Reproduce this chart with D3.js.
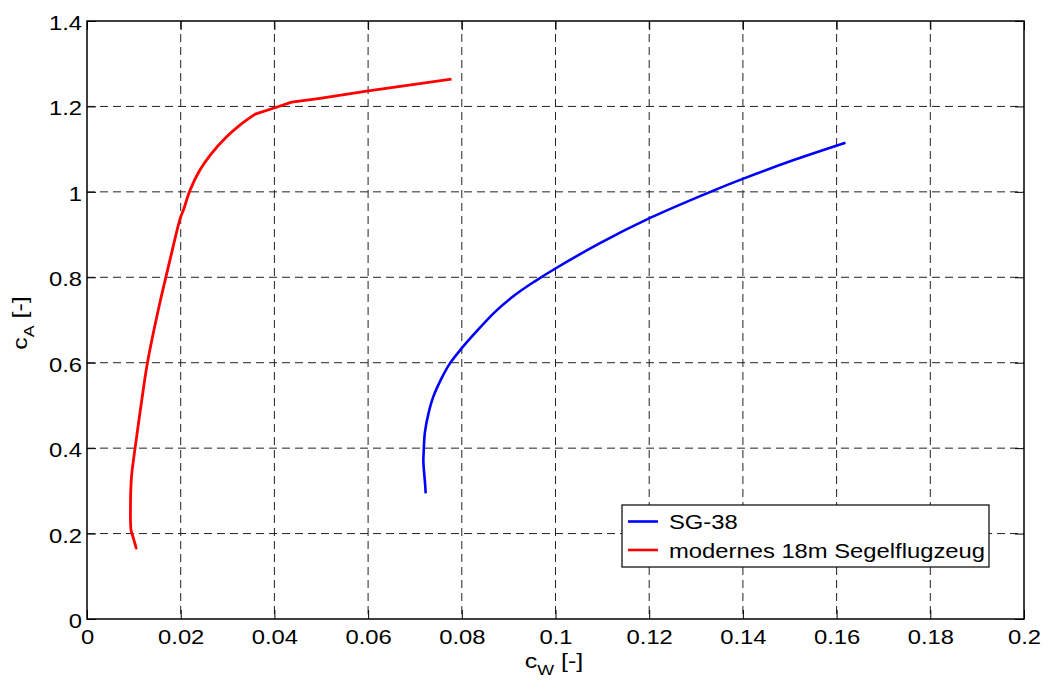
<!DOCTYPE html>
<html><head><meta charset="utf-8">
<script src="https://cdn.jsdelivr.net/npm/d3@7"></script>
<style>
html,body{margin:0;padding:0;background:#fff;}
svg{display:block;}
text{font-family:"Liberation Sans",Arial,sans-serif;fill:#000;}
</style></head>
<body>
<script>
// Data
const xTicks = [0, 0.02, 0.04, 0.06, 0.08, 0.1, 0.12, 0.14, 0.16, 0.18, 0.2];
const yTicks = [0, 0.2, 0.4, 0.6, 0.8, 1, 1.2, 1.4];
const seriesNames = ["SG-38", "modernes 18m Segelflugzeug"];
const sgCw = [0.0723,0.0721,0.0718,0.0719,0.0721,0.0729,0.0739,0.0757,0.0775,0.0800,0.0828,0.0871,0.0914,0.0955,0.0999,0.1095,0.1202,0.1337,0.1401,0.1510,0.1619];
const sgCa = [0.294,0.325,0.368,0.400,0.435,0.482,0.520,0.564,0.599,0.634,0.669,0.719,0.759,0.790,0.820,0.880,0.939,1.003,1.031,1.075,1.115];
const modCw = [0.0105,0.0098,0.0094,0.0093,0.0095,0.0103,0.0117,0.0129,0.0152,0.0177,0.0199,0.0206,0.0220,0.0241,0.0263,0.0298,0.0327,0.0359,0.0401,0.0437,0.0497,0.0597,0.0778];
const modCa = [0.166,0.193,0.208,0.279,0.333,0.403,0.513,0.600,0.723,0.840,0.938,0.958,1.004,1.051,1.086,1.129,1.157,1.182,1.197,1.210,1.219,1.236,1.264];
const modKink = 17; // index where the red polar changes to straight segments

const W = 1047, H = 684;
const L = 87, R = 1024, T = 21, B = 619;
const SX = 1.19; // horizontal text stretch
const fmt = d => String(+d.toFixed(4));

const svg = d3.select("body").append("svg").attr("width", W).attr("height", H);
const x = d3.scaleLinear().domain([0, 0.2]).range([L, R]);
const y = d3.scaleLinear().domain([0, 1.4]).range([B, T]);

function stretchText(sel, px, py, anchor) {
  sel.attr("text-anchor", anchor)
     .attr("transform", `translate(${px},${py}) scale(${SX},1)`)
     .attr("x", 0).attr("y", 0);
}

// Grid
const grid = svg.append("g");
grid.selectAll("line.gx").data(xTicks.slice(1, -1)).join("line")
  .attr("x1", d => x(d)).attr("x2", d => x(d)).attr("y1", T).attr("y2", B)
  .attr("stroke", "#222").attr("stroke-width", 1).attr("stroke-dasharray", "8,5");
grid.selectAll("line.gy").data(yTicks.slice(1, -1)).join("line")
  .attr("y1", d => y(d)).attr("y2", d => y(d)).attr("x1", L).attr("x2", R)
  .attr("stroke", "#222").attr("stroke-width", 1).attr("stroke-dasharray", "8,5");

// Axes (inward ticks) using d3 axes
const tickLen = 9;
const axB = svg.append("g").attr("transform", `translate(0,${B})`)
  .call(d3.axisBottom(x).tickValues(xTicks).tickSizeInner(-tickLen).tickSizeOuter(0).tickFormat(fmt));
const axT = svg.append("g").attr("transform", `translate(0,${T})`)
  .call(d3.axisTop(x).tickValues(xTicks).tickSizeInner(-tickLen).tickSizeOuter(0).tickFormat(""));
const axL = svg.append("g").attr("transform", `translate(${L},0)`)
  .call(d3.axisLeft(y).tickValues(yTicks).tickSizeInner(-tickLen).tickSizeOuter(0).tickFormat(fmt));
const axR = svg.append("g").attr("transform", `translate(${R},0)`)
  .call(d3.axisRight(y).tickValues(yTicks).tickSizeInner(-tickLen).tickSizeOuter(0).tickFormat(""));
[axB, axT, axL, axR].forEach(a => {
  a.select(".domain").remove();
  a.selectAll(".tick line").attr("stroke", "#000").attr("stroke-width", 1);
});
axB.selectAll(".tick text").each(function() {
  d3.select(this).attr("font-size", 20).attr("dy", null);
  stretchText(d3.select(this), 0, 25, "middle");
});
axL.selectAll(".tick text").each(function() {
  d3.select(this).attr("font-size", 20).attr("dy", null);
  stretchText(d3.select(this), -5, 8.5, "end");
});

// Box
svg.append("rect").attr("x", L).attr("y", T).attr("width", R - L).attr("height", B - T)
  .attr("fill", "none").attr("stroke", "#000").attr("stroke-width", 1.5);

// Lines
const sgData = d3.zip(sgCw, sgCa);
const modData = d3.zip(modCw, modCa);
const smooth = d3.line().x(d => x(d[0])).y(d => y(d[1])).curve(d3.curveCatmullRom.alpha(0.5));
const straight = d3.line().x(d => x(d[0])).y(d => y(d[1]));
svg.append("path").datum(sgData)
  .attr("d", smooth)
  .attr("fill", "none").attr("stroke", "#0000ff").attr("stroke-width", 2.6);
svg.append("path").datum(modData.slice(0, modKink + 1))
  .attr("d", smooth)
  .attr("fill", "none").attr("stroke", "#ff0000").attr("stroke-width", 2.8).attr("stroke-linecap", "round");
svg.append("path").datum(modData.slice(modKink))
  .attr("d", straight)
  .attr("fill", "none").attr("stroke", "#ff0000").attr("stroke-width", 2.8).attr("stroke-linejoin", "round");

// Axis labels
const xl = svg.append("text").attr("font-size", 21);
xl.append("tspan").text("c");
xl.append("tspan").attr("font-size", 15).attr("dy", 7).text("W");
xl.append("tspan").attr("dy", -7).text(" [-]");
stretchText(xl, 554, 668, "middle");

const yl = svg.append("text").attr("font-size", 21);
yl.append("tspan").text("c");
yl.append("tspan").attr("font-size", 15).attr("dy", 7).text("A");
yl.append("tspan").attr("dy", -7).text(" [-]");
yl.attr("text-anchor", "middle").attr("transform", `translate(27,323) rotate(-90) scale(${SX},1)`);

// Legend
const lg = svg.append("g");
lg.append("rect").attr("x", 622).attr("y", 505).attr("width", 367).attr("height", 62)
  .attr("fill", "#fff").attr("stroke", "#000").attr("stroke-width", 1.2);
const colors = ["#0000ff", "#ff0000"];
seriesNames.forEach((name, i) => {
  const ly = 521.5 + i * 28.5;
  lg.append("line").attr("x1", 628).attr("x2", 658).attr("y1", ly).attr("y2", ly)
    .attr("stroke", colors[i]).attr("stroke-width", 2.6);
  const t = lg.append("text").attr("font-size", 20).text(name);
  stretchText(t, 669, ly + 7.5, "start");
});
</script>
</body></html>
